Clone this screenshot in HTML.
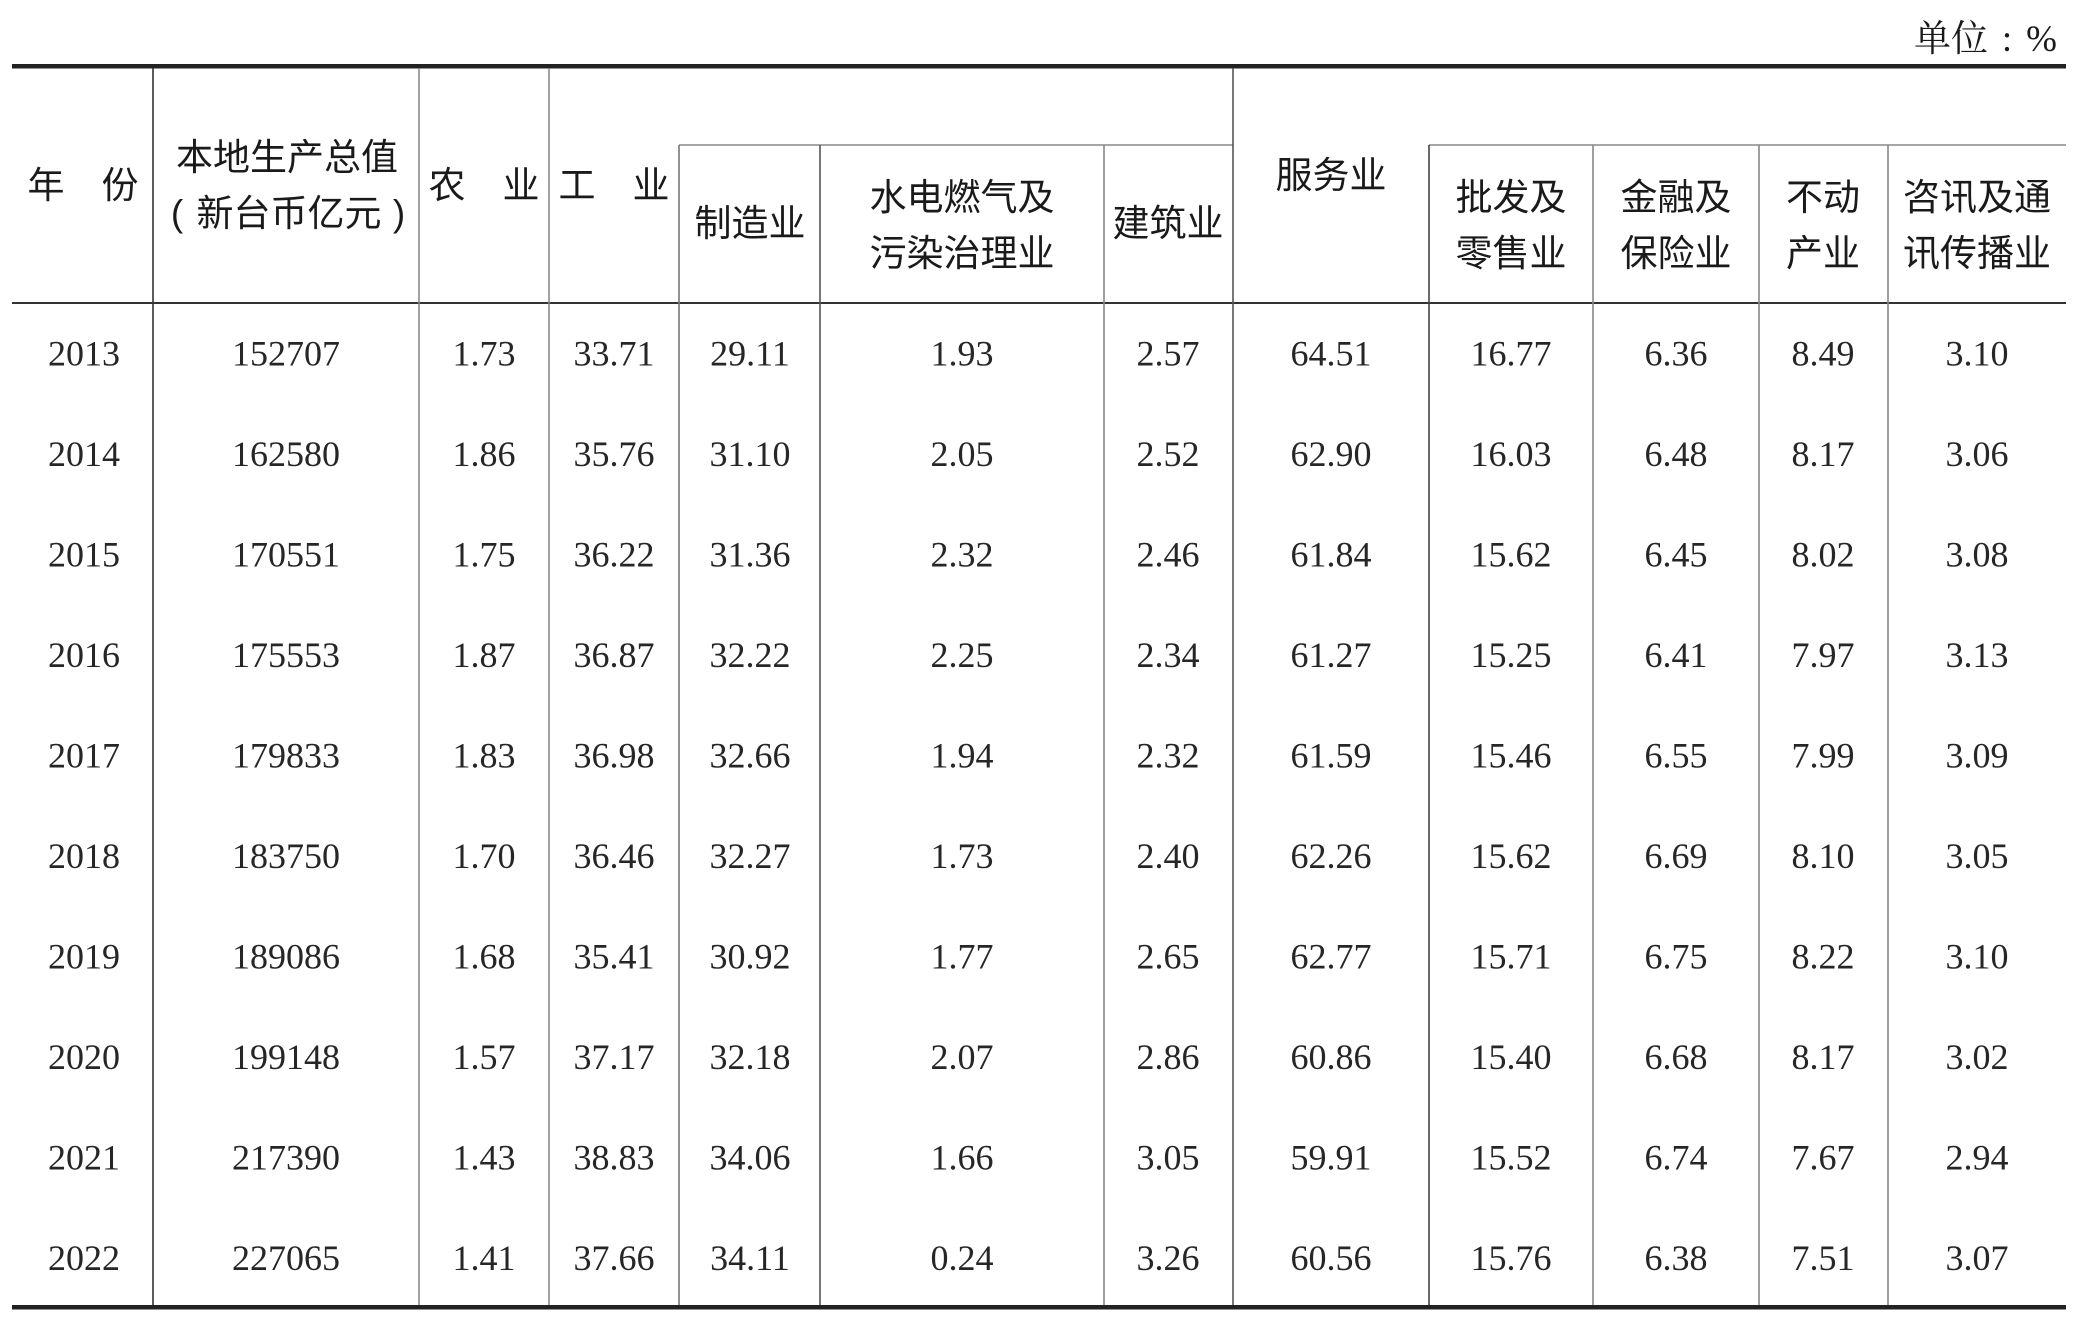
<!DOCTYPE html>
<html>
<head>
<meta charset="utf-8">
<style>
  html, body { margin: 0; padding: 0; background: #ffffff; }
  body { width: 2084px; height: 1326px; overflow: hidden; }
  svg { display: block; }
  .h { font-family: "Liberation Sans", "Noto Sans CJK SC", sans-serif; font-size: 37px; fill: #1a1a1a; }
  .p { font-family: "Liberation Sans", sans-serif; font-size: 37px; fill: #1a1a1a; }
  .n { font-family: "Liberation Serif", "Noto Serif CJK SC", serif; font-size: 36px; fill: #262626; }
  .u { font-family: "Liberation Serif", "Noto Serif CJK SC", serif; font-size: 37px; fill: #1a1a1a; }
</style>
</head>
<body>
<svg width="2084" height="1326" viewBox="0 0 2084 1326" xmlns="http://www.w3.org/2000/svg">
  <rect x="0" y="0" width="2084" height="1326" fill="#ffffff"/>

  <!-- unit -->
  <text class="u" x="1914" y="51">单位</text>
  <text class="u" x="2007" y="51" text-anchor="middle">:</text>
  <text class="u" x="2057" y="51" text-anchor="end">%</text>

  <!-- rules -->
  <rect x="12" y="64" width="2054" height="4.5" fill="#222222"/>
  <rect x="12" y="1305" width="2054" height="4.5" fill="#222222"/>
  <line x1="12" y1="303" x2="2066" y2="303" stroke="#333333" stroke-width="2"/>
  <line x1="679" y1="145" x2="1233" y2="145" stroke="#888888" stroke-width="1.6"/>
  <line x1="1429" y1="145" x2="2066" y2="145" stroke="#888888" stroke-width="1.6"/>

  <!-- full height verticals -->
  <line x1="153" y1="68" x2="153" y2="1305" stroke="#333333" stroke-width="1.6"/>
  <line x1="419" y1="68" x2="419" y2="1305" stroke="#888888" stroke-width="1.6"/>
  <line x1="549" y1="68" x2="549" y2="1305" stroke="#888888" stroke-width="1.6"/>
  <line x1="1233" y1="68" x2="1233" y2="1305" stroke="#555555" stroke-width="1.6"/>
  <!-- partial verticals -->
  <line x1="679" y1="145" x2="679" y2="1305" stroke="#777777" stroke-width="1.6"/>
  <line x1="820" y1="145" x2="820" y2="1305" stroke="#555555" stroke-width="1.6"/>
  <line x1="1104" y1="145" x2="1104" y2="1305" stroke="#888888" stroke-width="1.6"/>
  <line x1="1429" y1="145" x2="1429" y2="1305" stroke="#444444" stroke-width="1.6"/>
  <line x1="1593" y1="145" x2="1593" y2="1305" stroke="#888888" stroke-width="1.6"/>
  <line x1="1759" y1="145" x2="1759" y2="1305" stroke="#888888" stroke-width="1.6"/>
  <line x1="1888" y1="145" x2="1888" y2="1305" stroke="#888888" stroke-width="1.6"/>

  <!-- headers -->
  <g class="h" text-anchor="middle">
    <text x="83" y="198">年　份</text>
    <text x="287" y="170">本地生产总值</text>
    <text x="289" y="226">新台币亿元</text>
    <text x="484" y="198">农　业</text>
    <text x="614" y="198">工　业</text>
    <text x="750" y="236">制造业</text>
    <text x="962" y="210">水电燃气及</text>
    <text x="962" y="266">污染治理业</text>
    <text x="1168" y="236">建筑业</text>
    <text x="1331" y="188">服务业</text>
    <text x="1511" y="210">批发及</text>
    <text x="1511" y="266">零售业</text>
    <text x="1676" y="210">金融及</text>
    <text x="1676" y="266">保险业</text>
    <text x="1823" y="210">不动</text>
    <text x="1823" y="266">产业</text>
    <text x="1977" y="210">咨讯及通</text>
    <text x="1977" y="266">讯传播业</text>
  </g>
  <g class="p" text-anchor="middle">
    <text x="177" y="226">(</text>
    <text x="399" y="226">)</text>
  </g>

  <!-- data -->
  <g class="n" text-anchor="middle">
    <g transform="translate(0,365.5)">
      <text x="84" y="0">2013</text><text x="286" y="0">152707</text><text x="484" y="0">1.73</text><text x="614" y="0">33.71</text><text x="750" y="0">29.11</text><text x="962" y="0">1.93</text><text x="1168" y="0">2.57</text><text x="1331" y="0">64.51</text><text x="1511" y="0">16.77</text><text x="1676" y="0">6.36</text><text x="1823" y="0">8.49</text><text x="1977" y="0">3.10</text>
    </g>
    <g transform="translate(0,466)">
      <text x="84" y="0">2014</text><text x="286" y="0">162580</text><text x="484" y="0">1.86</text><text x="614" y="0">35.76</text><text x="750" y="0">31.10</text><text x="962" y="0">2.05</text><text x="1168" y="0">2.52</text><text x="1331" y="0">62.90</text><text x="1511" y="0">16.03</text><text x="1676" y="0">6.48</text><text x="1823" y="0">8.17</text><text x="1977" y="0">3.06</text>
    </g>
    <g transform="translate(0,566.5)">
      <text x="84" y="0">2015</text><text x="286" y="0">170551</text><text x="484" y="0">1.75</text><text x="614" y="0">36.22</text><text x="750" y="0">31.36</text><text x="962" y="0">2.32</text><text x="1168" y="0">2.46</text><text x="1331" y="0">61.84</text><text x="1511" y="0">15.62</text><text x="1676" y="0">6.45</text><text x="1823" y="0">8.02</text><text x="1977" y="0">3.08</text>
    </g>
    <g transform="translate(0,667)">
      <text x="84" y="0">2016</text><text x="286" y="0">175553</text><text x="484" y="0">1.87</text><text x="614" y="0">36.87</text><text x="750" y="0">32.22</text><text x="962" y="0">2.25</text><text x="1168" y="0">2.34</text><text x="1331" y="0">61.27</text><text x="1511" y="0">15.25</text><text x="1676" y="0">6.41</text><text x="1823" y="0">7.97</text><text x="1977" y="0">3.13</text>
    </g>
    <g transform="translate(0,767.5)">
      <text x="84" y="0">2017</text><text x="286" y="0">179833</text><text x="484" y="0">1.83</text><text x="614" y="0">36.98</text><text x="750" y="0">32.66</text><text x="962" y="0">1.94</text><text x="1168" y="0">2.32</text><text x="1331" y="0">61.59</text><text x="1511" y="0">15.46</text><text x="1676" y="0">6.55</text><text x="1823" y="0">7.99</text><text x="1977" y="0">3.09</text>
    </g>
    <g transform="translate(0,868)">
      <text x="84" y="0">2018</text><text x="286" y="0">183750</text><text x="484" y="0">1.70</text><text x="614" y="0">36.46</text><text x="750" y="0">32.27</text><text x="962" y="0">1.73</text><text x="1168" y="0">2.40</text><text x="1331" y="0">62.26</text><text x="1511" y="0">15.62</text><text x="1676" y="0">6.69</text><text x="1823" y="0">8.10</text><text x="1977" y="0">3.05</text>
    </g>
    <g transform="translate(0,968.5)">
      <text x="84" y="0">2019</text><text x="286" y="0">189086</text><text x="484" y="0">1.68</text><text x="614" y="0">35.41</text><text x="750" y="0">30.92</text><text x="962" y="0">1.77</text><text x="1168" y="0">2.65</text><text x="1331" y="0">62.77</text><text x="1511" y="0">15.71</text><text x="1676" y="0">6.75</text><text x="1823" y="0">8.22</text><text x="1977" y="0">3.10</text>
    </g>
    <g transform="translate(0,1069)">
      <text x="84" y="0">2020</text><text x="286" y="0">199148</text><text x="484" y="0">1.57</text><text x="614" y="0">37.17</text><text x="750" y="0">32.18</text><text x="962" y="0">2.07</text><text x="1168" y="0">2.86</text><text x="1331" y="0">60.86</text><text x="1511" y="0">15.40</text><text x="1676" y="0">6.68</text><text x="1823" y="0">8.17</text><text x="1977" y="0">3.02</text>
    </g>
    <g transform="translate(0,1169.5)">
      <text x="84" y="0">2021</text><text x="286" y="0">217390</text><text x="484" y="0">1.43</text><text x="614" y="0">38.83</text><text x="750" y="0">34.06</text><text x="962" y="0">1.66</text><text x="1168" y="0">3.05</text><text x="1331" y="0">59.91</text><text x="1511" y="0">15.52</text><text x="1676" y="0">6.74</text><text x="1823" y="0">7.67</text><text x="1977" y="0">2.94</text>
    </g>
    <g transform="translate(0,1270)">
      <text x="84" y="0">2022</text><text x="286" y="0">227065</text><text x="484" y="0">1.41</text><text x="614" y="0">37.66</text><text x="750" y="0">34.11</text><text x="962" y="0">0.24</text><text x="1168" y="0">3.26</text><text x="1331" y="0">60.56</text><text x="1511" y="0">15.76</text><text x="1676" y="0">6.38</text><text x="1823" y="0">7.51</text><text x="1977" y="0">3.07</text>
    </g>
  </g>
</svg>
</body>
</html>
